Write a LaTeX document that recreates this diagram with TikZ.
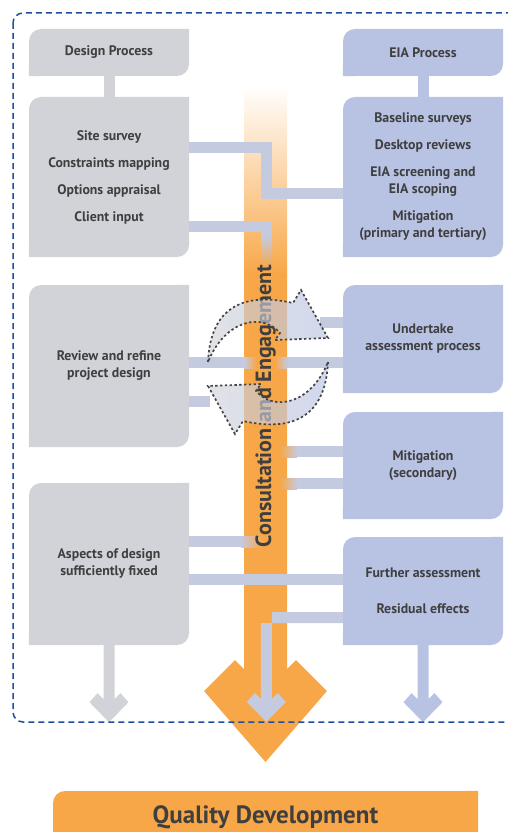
\documentclass[tikz,border=0pt]{standalone}
\usepackage{fontspec}
\setmainfont{PT Sans}
\usetikzlibrary{positioning,calc}

\definecolor{greyc}{HTML}{D1D3D8}
\definecolor{bluec}{HTML}{B8C3E4}
\definecolor{linkc}{HTML}{C4CADF}
\definecolor{qorange}{HTML}{F8A748}
\definecolor{textc}{HTML}{3F3F3F}
\definecolor{borderc}{HTML}{1F4E9F}
\definecolor{ringc}{HTML}{444444}

\newcommand{\boxfont}{\fontsize{13.8pt}{17pt}\selectfont\bfseries}

\begin{document}
\begin{tikzpicture}[
    x=1pt, y=-1pt,
    leaf/.style = {rectangle, fill=#1, rounded corners=12pt, minimum width=160pt, inner sep=0pt, align=center, text=textc, font=\boxfont,
        append after command={\pgfextra{\fill[#1] (\tikzlastnode.north east) rectangle ++(-12pt,-12pt) (\tikzlastnode.south west) rectangle ++(12pt,12pt);}}},
    design/.style = {leaf=greyc},
    eia/.style = {leaf=bluec},
    link/.style = {draw=linkc, line width=11pt},
    ring/.style = {draw=ringc, line width=1.7pt, dash pattern=on 2.4pt off 2.4pt, left color=greyc, right color=bluec, fill opacity=0.65}
]
    \useasboundingbox (0,0) rectangle (507,832);
    % Process boxes
    \node[design, minimum height=47pt] (dhead) at (109,52.5) {Design Process};
    \node[eia, minimum height=47pt] (ehead) at (423,52.5) {EIA Process};
    \node[design, minimum height=160pt] (dsite) at (109,177) {Site survey\\[10pt] Constraints mapping\\[10pt] Options appraisal\\[10pt] Client input};
    \node[eia, minimum height=160pt] (ebase) at (423,177) {Baseline surveys\\[10pt] Desktop reviews\\[10pt] EIA screening and\\ EIA scoping\\[10pt] Mitigation\\ (primary and tertiary)};
    \node[design, minimum height=162pt] (dreview) at (109,366) {Review and refine\\ project design};
    \node[eia, minimum height=108pt] (eassess) at (423,339) {Undertake\\ assessment process};
    \node[eia, minimum height=107pt] (emitig) at (423,465.5) {Mitigation\\ (secondary)};
    \node[design, minimum height=162pt] (dfixed) at (109,564) {Aspects of design\\ sufficiently fixed};
    \node[eia, minimum height=108pt] (efurther) at (423,591) {Further assessment\\[19pt] Residual effects};
    \node[leaf=qorange, minimum width=425pt, minimum height=52pt, font=\fontsize{25pt}{29pt}\selectfont\bfseries] (quality) at (265.5,817) {Quality Development};
    % Header joins
    \draw[draw=greyc, line width=11pt] (dhead) -- (dsite);
    \draw[draw=bluec, line width=11pt] (ehead) -- (ebase);
    % Links under the bar
    \draw[link] ([yshift=3.5pt]dreview.east) -- ([yshift=-23.5pt]eassess.west);
    \draw[link] ([yshift=17pt]eassess.west) -- ++(-23,0);
    \draw[link] ([yshift=-35.5pt]dreview.east) -- ++(21,0);
    % Consultation bar
    \shade[top color=qorange!3, bottom color=qorange] (244,90) rectangle (287,275);
    \fill[qorange] (244,274) -- (244,669) -- (235,660) -- (204,691) -- (265.5,762) -- (327,691) -- (296,660) -- (287,669) -- (287,274) -- cycle;
    \shade[left color=linkc, right color=qorange] (244,357) rectangle (256,368);
    \shade[left color=qorange, right color=linkc] (275,357) rectangle (287,368);
    % Links into the bar
    \draw[link] ([yshift=29.5pt]dsite.east) -- ++(77.5,0) |- ([yshift=-16pt]ebase.west);
    \draw[link] ([yshift=-49.5pt]dsite.east) -- ++(77.5,0) -- ++(0,10);
    \shade[top color=linkc, bottom color=qorange] (261,236.5) rectangle (272,268);
    \draw[link] ([yshift=14pt]emitig.west) -- ++(-46,0);
    \shade[left color=qorange, right color=linkc] (280,446) rectangle (297,457);
    \draw[link] ([yshift=-18pt]emitig.west) -- ++(-46,0);
    \shade[left color=qorange, right color=linkc] (280,478) rectangle (297,489);
    \draw[link] ([yshift=22.5pt]dfixed.east) -- ++(52,0);
    \shade[left color=linkc, right color=qorange] (241,536) rectangle (263,547);
    \node[rotate=90, text=textc, font=\fontsize{22pt}{26pt}\selectfont\bfseries] (consult) at (265.5,406) {Consultation and Engagement};
    % Review loop
    \path[ring] (208,362) .. controls (210,315) and (235,290) .. (293,303) -- (301,290) -- (328,338) -- (275,340) -- (280,333) .. controls (262,312) and (225,320) .. (208,362) -- cycle;
    \path[ring] (328,362) .. controls (326,409) and (301,434) .. (243,421) -- (235,434) -- (208,386) -- (261,384) -- (256,391) .. controls (274,412) and (311,404) .. (328,362) -- cycle;
    % Links over the bar
    \draw[link] ([yshift=-15pt]dfixed.east) -- ([yshift=12pt]efurther.west);
    \fill[linkc] ([yshift=-21pt]efurther.west) -- ++(-71,0) -- ++(0,87) -- ++(6,-6) -- ++(8,9) -- ++(-19.5,20) -- ++(-19.5,-20) -- ++(8,-9) -- ++(6,6) -- ++(0,-76) -- ([yshift=-32pt]efurther.west) -- cycle;
    \fill[greyc] ([xshift=-5.5pt]dfixed.south) -- ++(0,54) -- ++(-6,-6) -- ++(-8,9) -- ++(19.5,20) -- ++(19.5,-20) -- ++(-8,-9) -- ++(-6,6) -- ([xshift=5.5pt]dfixed.south) -- cycle;
    \fill[bluec] ([xshift=-5.5pt]efurther.south) -- ++(0,54) -- ++(-6,-6) -- ++(-8,9) -- ++(19.5,20) -- ++(19.5,-20) -- ++(-8,-9) -- ++(-6,6) -- ([xshift=5.5pt]efurther.south) -- cycle;
    % Boundary
    \draw[borderc, line width=1.5pt, dash pattern=on 6pt off 4pt, rounded corners=10pt] (13,13) rectangle (540,722);
\end{tikzpicture}
\end{document}
